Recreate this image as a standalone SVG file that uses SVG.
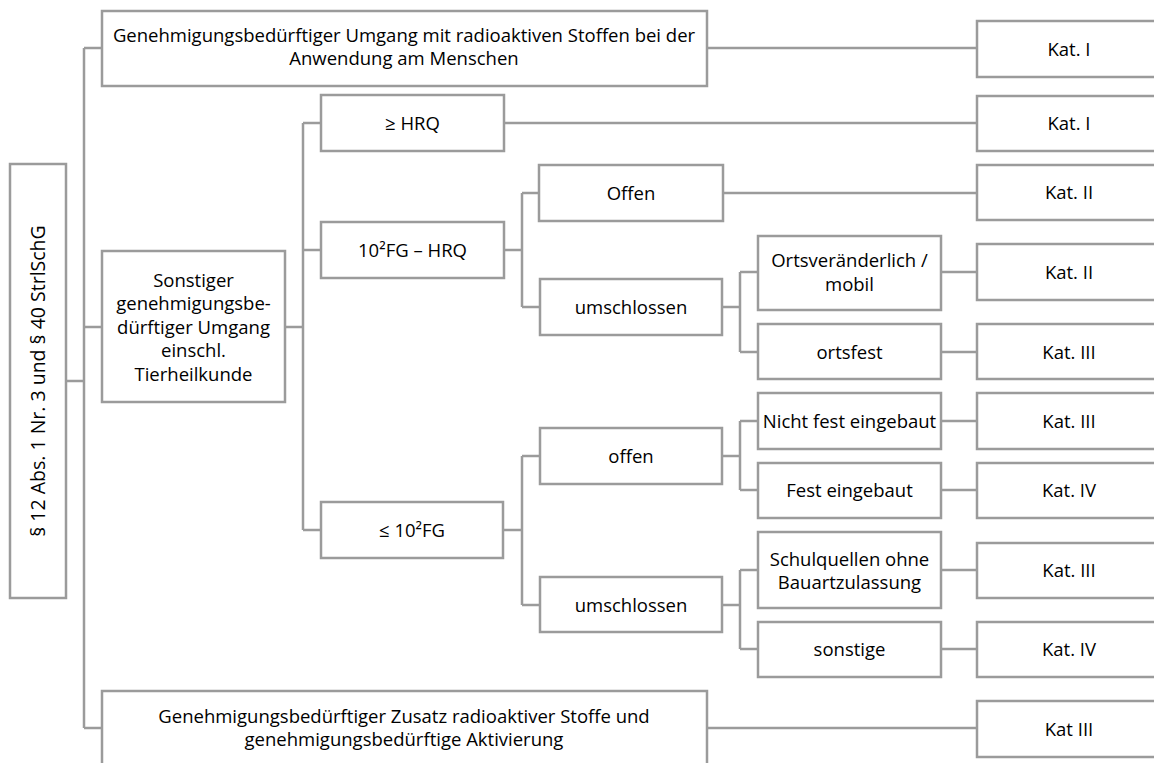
<svg xmlns="http://www.w3.org/2000/svg" width="1154" height="763" viewBox="0 0 1154 763">
<style>
.b{fill:#fff;stroke:#9b9b9b;stroke-width:2.5}
.c{fill:none;stroke:#9b9b9b;stroke-width:2.5}
text{font-family:"Open Sans","Liberation Sans",sans-serif;font-size:18.5px;fill:#000;text-anchor:middle}
</style>
<rect width="1154" height="763" fill="#fff"/>
<g id="connectors" class="c">
<path d="M66,381H84M84,48V728M84,48H102M84,327H102M84,728H102"/>
<path d="M707,48H977M285,327H303M303,123V530M303,123H321M303,250H321M303,530H321"/>
<path d="M504,123H977M504,250H522M522,193V307M522,193H539M522,307H540M723,193H977"/>
<path d="M722,307H740M740,272V352M740,272H758M740,352H758M941,272H977M941,352H977"/>
<path d="M503,530H522M522,456V605M522,456H540M522,605H540"/>
<path d="M722,456H740M740,421V490M740,421H758M740,490H758M941,421H977M941,490H977"/>
<path d="M722,605H740M740,570V649M740,570H758M740,649H758M941,570H977M941,649H977"/>
<path d="M707,728H977"/>
</g>
<g id="n_root"><rect class="b" x="10" y="164" width="56" height="434"/><text transform="translate(45,381) rotate(-90)" style="font-size:19.5px">§ 12 Abs. 1 Nr. 3 und § 40 StrlSchG</text></g>
<g id="n_top"><rect class="b" x="102" y="11" width="605" height="75"/><text x="404" y="41.5">Genehmigungsbedürftiger Umgang mit radioaktiven Stoffen bei der</text><text x="404" y="65">Anwendung am Menschen</text></g>
<g id="n_top_kat"><rect class="b" x="977" y="21" width="184" height="56"/><text x="1069" y="55.5">Kat. I</text></g>
<g id="n_sonst"><rect class="b" x="102" y="251" width="183" height="151"/><text x="193.5" y="286.5">Sonstiger</text><text x="193.5" y="310">genehmigungsbe-</text><text x="193.5" y="333.5">dürftiger Umgang</text><text x="193.5" y="357">einschl.</text><text x="193.5" y="380.5">Tierheilkunde</text></g>
<g id="n_hrq"><rect class="b" x="321" y="95" width="183" height="56"/><text x="412.5" y="129.5">≥ HRQ</text></g>
<g id="n_hrq_kat"><rect class="b" x="977" y="96" width="184" height="55"/><text x="1069" y="130">Kat. I</text></g>
<g id="n_fghrq"><rect class="b" x="321" y="222" width="183" height="56"/><text x="412.5" y="256.5">10²FG – HRQ</text></g>
<g id="n_offen1"><rect class="b" x="539" y="165" width="184" height="56"/><text x="631" y="199.5">Offen</text></g>
<g id="n_offen1_kat"><rect class="b" x="977" y="165" width="184" height="55"/><text x="1069" y="199">Kat. II</text></g>
<g id="n_umschl1"><rect class="b" x="540" y="279" width="182" height="56"/><text x="631" y="313.5">umschlossen</text></g>
<g id="n_mobil"><rect class="b" x="758" y="236" width="183" height="74"/><text x="849.5" y="266.5">Ortsveränderlich /</text><text x="849.5" y="290.5">mobil</text></g>
<g id="n_mobil_kat"><rect class="b" x="977" y="244" width="184" height="56"/><text x="1069" y="278.5">Kat. II</text></g>
<g id="n_ortsfest"><rect class="b" x="758" y="324" width="183" height="55"/><text x="849.5" y="358.5">ortsfest</text></g>
<g id="n_ortsfest_kat"><rect class="b" x="977" y="324" width="184" height="55"/><text x="1069" y="358.5">Kat. III</text></g>
<g id="n_fg"><rect class="b" x="321" y="502" width="182" height="56"/><text x="412" y="536.5">≤ 10²FG</text></g>
<g id="n_offen2"><rect class="b" x="540" y="428" width="182" height="56"/><text x="631" y="462.5">offen</text></g>
<g id="n_nichtfest"><rect class="b" x="758" y="393" width="183" height="56"/><text x="849.5" y="427.5">Nicht fest eingebaut</text></g>
<g id="n_nichtfest_kat"><rect class="b" x="977" y="393" width="184" height="56"/><text x="1069" y="427.5">Kat. III</text></g>
<g id="n_fest"><rect class="b" x="758" y="463" width="183" height="55"/><text x="849.5" y="496.5">Fest eingebaut</text></g>
<g id="n_fest_kat"><rect class="b" x="977" y="463" width="184" height="55"/><text x="1069" y="496.5">Kat. IV</text></g>
<g id="n_umschl2"><rect class="b" x="540" y="577" width="182" height="55"/><text x="631" y="611.5">umschlossen</text></g>
<g id="n_schul"><rect class="b" x="758" y="532" width="183" height="76"/><text x="849.5" y="565.5">Schulquellen ohne</text><text x="849.5" y="588.5">Bauartzulassung</text></g>
<g id="n_schul_kat"><rect class="b" x="977" y="543" width="184" height="55"/><text x="1069" y="577">Kat. III</text></g>
<g id="n_sonstige"><rect class="b" x="758" y="622" width="183" height="55"/><text x="849.5" y="655.5">sonstige</text></g>
<g id="n_sonstige_kat"><rect class="b" x="977" y="622" width="184" height="55"/><text x="1069" y="655.5">Kat. IV</text></g>
<g id="n_bottom"><rect class="b" x="102" y="691" width="605" height="76"/><text x="404" y="722.5">Genehmigungsbedürftiger Zusatz radioaktiver Stoffe und</text><text x="404" y="746">genehmigungsbedürftige Aktivierung</text></g>
<g id="n_bottom_kat"><rect class="b" x="977" y="701" width="184" height="56"/><text x="1069" y="735.5">Kat III</text></g>
</svg>
